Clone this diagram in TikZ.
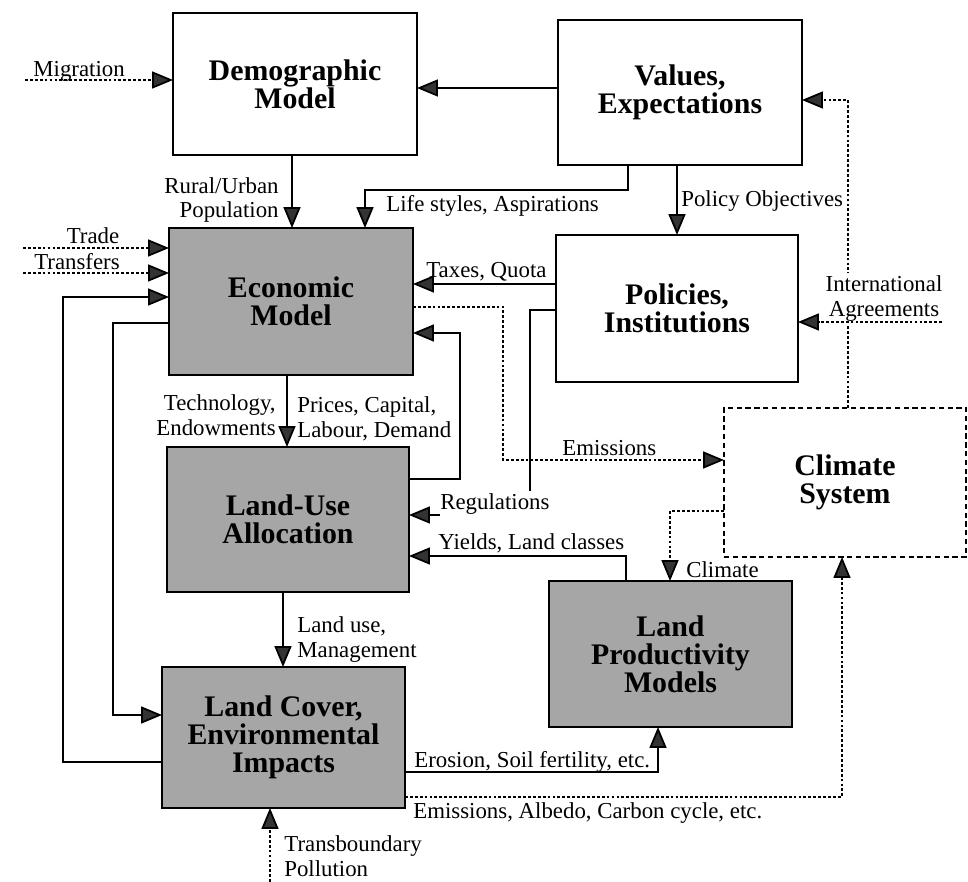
\documentclass[tikz,border=0pt]{standalone}
\usepackage{fontspec}
\setmainfont{Liberation Serif}
\usetikzlibrary{arrows.meta}
\begin{document}
\begin{tikzpicture}[x=0.02cm,y=-0.02cm,
  model/.style={draw,line width=1.1pt,inner sep=0pt,outer sep=0pt,align=center,
    font=\fontsize{17}{16}\selectfont\bfseries},
  plainbox/.style={model,fill=white},
  shadedbox/.style={model,fill=black!35},
  dashbox/.style={model,fill=white,dash pattern=on 3pt off 2pt},
  lbl/.style={font=\fontsize{13}{14.2}\selectfont,inner sep=0pt},
  flow/.style={line width=1pt,-{Triangle[length=0.42cm,width=0.34cm,fill=black!80]}},
  dotflow/.style={flow,dash pattern=on 1.6pt off 1.2pt},
]
\useasboundingbox (0,0) rectangle (968,882);

% model boxes
\node[plainbox,minimum width=4.88cm,minimum height=2.84cm] (demo) at (295,84) {Demographic\\Model};
\node[plainbox,minimum width=4.88cm,minimum height=2.9cm] (values) at (680,92.5) {Values,\\Expectations};
\node[shadedbox,minimum width=4.88cm,minimum height=2.94cm] (econ) at (291,301.5) {Economic\\Model};
\node[plainbox,minimum width=4.84cm,minimum height=2.94cm] (policies) at (677,308.5) {Policies,\\Institutions};
\node[shadedbox,minimum width=4.84cm,minimum height=2.9cm] (landuse) at (288,519.5) {Land-Use\\Allocation};
\node[dashbox,minimum width=4.84cm,minimum height=2.98cm] (climate) at (845,482.5) {Climate\\System};
\node[shadedbox,minimum width=4.86cm,minimum height=2.92cm] (lp) at (670.5,654) {Land\\Productivity\\Models};
\node[shadedbox,minimum width=4.86cm,minimum height=2.82cm] (landcover) at (283.5,737.5) {Land Cover,\\Environmental\\Impacts};

% external inputs
\coordinate (migsrc) at (25,80);
\coordinate (tradesrc) at (23,248);
\coordinate (transsrc) at (23,273);
\coordinate (intsrc) at (942,322);
\coordinate (tbsrc) at (270,882);

\draw[dotflow] (migsrc) -- (demo.west |- 0,80);
\node[lbl,anchor=base west] (migl) at (33,77) {Migration};

\draw[dotflow] (tradesrc) -- (econ.west |- 0,248);
\node[lbl,anchor=base] (tradel) at (93,244) {Trade};
\draw[dotflow] (transsrc) -- (econ.west |- 0,273);
\node[lbl,anchor=base] (transl) at (77,270) {Transfers};

% values, demography, economy
\draw[flow] (values.west |- 0,88) -- (demo.east |- 0,88);

\draw[flow] (demo.south -| 292,0) -- (econ.north -| 292,0);
\node[lbl,anchor=east,align=right] (rurall) at (279,200) {Rural/Urban\\Population};

\draw[flow] (values.south -| 628,0) |- (365,190) -- (econ.north -| 365,0);
\node[lbl,anchor=base west] (lifel) at (386,212) {Life styles, Aspirations};

\draw[flow] (values.south -| 677,0) -- (policies.north -| 677,0);
\node[lbl,anchor=base west] (polobl) at (681,207) {Policy Objectives};

% climate feedback to values, international agreements
\draw[dotflow] (climate.north -| 848,0) |- (values.east |- 0,100);
\node[lbl,align=center,fill=white,inner sep=2pt] (intl) at (884,299) {International\\Agreements};
\draw[dotflow] (intsrc) -- (policies.east |- 0,322);

% policies to economy and land use
\draw[flow] (policies.west |- 0,284) -- (econ.east |- 0,284);
\node[lbl,anchor=base west] (taxl) at (426,277) {Taxes, Quota};

\draw[flow] (policies.west |- 0,310) -| (530,515) -- (landuse.east |- 0,515);

% economy and land use
\draw[dotflow] (econ.east |- 0,307) -| (503,460) -- (climate.west |- 0,460);
\node[lbl,anchor=base west] (emisl) at (562,455) {Emissions};

\draw[flow] (landuse.east |- 0,479) -| (460,333) -- (econ.east |- 0,333);

\node[lbl,anchor=base west,fill=white,inner ysep=1pt,inner xsep=0pt] (regl) at (440,509) {Regulations};

\draw[flow] (econ.south -| 287,0) -- (landuse.north -| 287,0);
\node[lbl,anchor=east,align=right] (techl) at (276,415) {Technology,\\Endowments};
\node[lbl,anchor=west,align=left] (pricel) at (297,419) {Prices, Capital,\\Labour, Demand};

% productivity and climate
\draw[flow] (lp.north -| 626,0) |- (landuse.east |- 0,556);
\node[lbl,anchor=base west] (yieldl) at (438,549) {Yields, Land classes};

\draw[dotflow] (climate.west |- 0,511) -| (lp.north -| 670,0);
\node[lbl,anchor=base west] (climl) at (686,577) {Climate};

% land use to land cover
\draw[flow] (landuse.south -| 283,0) -- (landcover.north -| 283,0);
\node[lbl,anchor=west,align=left] (lusel) at (297,640) {Land use,\\Management};

% loops on the left
\draw[flow] (econ.west |- 0,323) -| (113,715) -- (landcover.west |- 0,715);
\draw[flow] (landcover.west |- 0,762) -| (63,297) -- (econ.west |- 0,297);

% land cover outputs
\draw[flow] (landcover.east |- 0,772) -| (lp.south -| 658,0);
\node[lbl,anchor=base west] (erosl) at (414,767) {Erosion, Soil fertility, etc.};

\draw[dotflow] (landcover.east |- 0,797) -| (climate.south -| 842,0);
\node[lbl,anchor=base west] (albl) at (413,818) {Emissions, Albedo, Carbon cycle, etc.};

\draw[dotflow] (tbsrc) -- (landcover.south -| 270,0);
\node[lbl,anchor=west,align=left] (tbl) at (284,856) {Transboundary\\Pollution};
\end{tikzpicture}
\end{document}
